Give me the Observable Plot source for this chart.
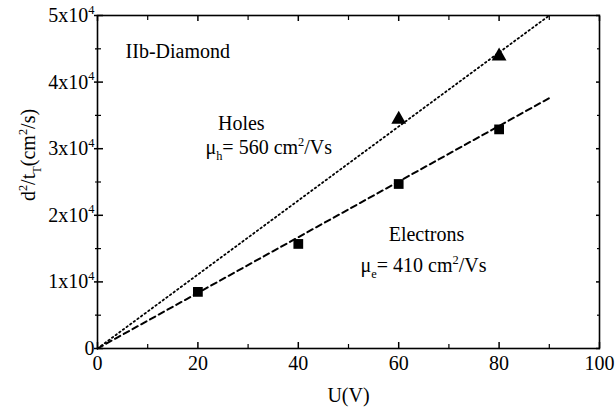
<!DOCTYPE html>
<html><head><meta charset="utf-8">
<script src="https://cdn.jsdelivr.net/npm/d3@7"></script>
<script src="https://cdn.jsdelivr.net/npm/@observablehq/plot@0.6"></script>
<style>
body{margin:0;background:#fff}
#chart svg, #chart svg text, #chart svg tspan { font-family: "Liberation Serif", "Times New Roman", serif !important; font-variant: normal !important; }
</style>
</head><body><div id="chart"></div>
<script>
// measured data (U in V, d^2/t_T in cm^2/s)
const electronU = [20, 40, 60, 80];
const electronV = [8500, 15700, 24700, 32900];
const holeU = [60, 80];
const holeV = [34400, 43900];
// fitted lines
const electronFitU = [0, 90];
const electronFitV = [0, 37600];
const holeFitU = [0, 90];
const holeFitV = [0, 50000];
// ticks
const xMajorTicks = [0, 20, 40, 60, 80, 100];
const xMinorTicks = [10, 30, 50, 70, 90];
const yMajorTicks = [0, 10000, 20000, 30000, 40000, 50000];
const yMinorTicks = [5000, 15000, 25000, 35000, 45000];
// annotations
const annotationText = ["IIb-Diamond", "Holes", "μ_h= 560 cm^2/Vs", "Electrons", "μ_e= 410 cm^2/Vs"];
const annotationU = [5.6, 24, 21.5, 58, 52.4];
const annotationV = [44600, 33800, 30100, 17100, 12400];
const xLabel = "U(V)";
const yLabel = "d^2/t_T(cm^2/s)";

const fontFamily = '"Liberation Serif","Times New Roman",serif';
const yTickFormat = d => d === 0 ? "0" : `${d / 1e4}x10^4`;

const plot = Plot.plot({
  width: 616, height: 416,
  marginLeft: 97, marginRight: 17, marginTop: 15, marginBottom: 68,
  style: {fontFamily, fontSize: "20px", color: "#000", background: "#fff", overflow: "visible"},
  x: {domain: [0, 100]},
  y: {domain: [0, 50000]},
  marks: [
    Plot.frame({stroke: "#000", strokeWidth: 1.6}),
    // inward tick marks on all four sides
    Plot.axisX({anchor: "bottom", ticks: xMajorTicks, tickSize: -6, fill: "none", label: null, strokeWidth: 1.5}),
    Plot.axisX({anchor: "bottom", ticks: xMinorTicks, tickSize: -4, fill: "none", label: null, strokeWidth: 1.2}),
    Plot.axisX({anchor: "top", ticks: xMajorTicks, tickSize: -5, fill: "none", label: null, strokeWidth: 1.5}),
    Plot.axisX({anchor: "top", ticks: xMinorTicks, tickSize: -4, fill: "none", label: null, strokeWidth: 1.2}),
    Plot.axisY({anchor: "left", ticks: yMajorTicks, tickSize: -6, fill: "none", label: null, strokeWidth: 1.5}),
    Plot.axisY({anchor: "left", ticks: yMajorTicks, tickSize: 3, fill: "none", label: null, strokeWidth: 1.5}),
    Plot.axisY({anchor: "left", ticks: yMinorTicks, tickSize: -4, fill: "none", label: null, strokeWidth: 1.2}),
    Plot.axisY({anchor: "left", ticks: yMinorTicks, tickSize: 2, fill: "none", label: null, strokeWidth: 1.2}),
    Plot.axisY({anchor: "right", ticks: yMajorTicks, tickSize: -4, fill: "none", label: null, strokeWidth: 1.5}),
    Plot.axisY({anchor: "right", ticks: yMinorTicks, tickSize: -3, fill: "none", label: null, strokeWidth: 1.2}),
    // tick labels
    Plot.axisX({anchor: "bottom", ticks: xMajorTicks, tickSize: 0, tickPadding: 7, label: null, fill: "#000", fontFamily, fontVariant: "normal"}),
    Plot.axisY({anchor: "left", ticks: yMajorTicks, tickSize: 0, tickPadding: 3, tickFormat: yTickFormat, label: null, fill: "#000", fontFamily, fontVariant: "normal"}),
    // fitted lines
    Plot.line(electronFitU, {x: electronFitU, y: electronFitV, stroke: "#000", strokeWidth: 2, strokeDasharray: "6,4"}),
    Plot.line(holeFitU, {x: holeFitU, y: holeFitV, stroke: "#000", strokeWidth: 1.8, strokeDasharray: "1.5,3"}),
    // data points
    Plot.dot(electronU, {x: electronU, y: electronV, symbol: "square", r: 5.5, fill: "#000", stroke: null}),
    Plot.dot(holeU, {x: holeU, y: holeV, symbol: "triangle", r: 5.5, fill: "#000", stroke: null}),
    // annotations
    Plot.text(annotationText, {x: annotationU, y: annotationV, textAnchor: "start", lineAnchor: "middle", fill: "#000", fontFamily}),
    Plot.text([xLabel], {frameAnchor: "bottom", textAnchor: "middle", lineAnchor: "middle", dy: 47, fill: "#000", fontFamily}),
    Plot.text([yLabel], {frameAnchor: "left", textAnchor: "middle", lineAnchor: "middle", rotate: -90, dx: -69, dy: -27, fill: "#000", fontFamily})
  ]
});

// turn ^x / _x markup into real superscript / subscript tspans
const svgns = "http://www.w3.org/2000/svg";
function richify(el) {
  const s = el.textContent;
  if (!/[\^_]/.test(s)) return;
  const fs = parseFloat(getComputedStyle(el).fontSize) || 20;
  const parts = [];
  let i = 0, buf = "";
  while (i < s.length) {
    const c = s[i];
    if ((c === "^" || c === "_") && i + 1 < s.length) {
      if (buf) parts.push({t: buf, k: 0});
      buf = "";
      let content;
      if (s[i + 1] === "{") { const j = s.indexOf("}", i + 2); content = s.slice(i + 2, j); i = j + 1; }
      else { content = s[i + 1]; i += 2; }
      parts.push({t: content, k: c === "^" ? 1 : -1});
    } else { buf += c; i++; }
  }
  if (buf) parts.push({t: buf, k: 0});
  el.textContent = "";
  let cur = 0;
  for (const p of parts) {
    const target = p.k === 1 ? -0.42 * fs : p.k === -1 ? 0.28 * fs : 0;
    const ts = document.createElementNS(svgns, "tspan");
    if (target - cur !== 0) ts.setAttribute("dy", (target - cur).toFixed(2));
    if (p.k) ts.setAttribute("font-size", (0.62 * fs).toFixed(1));
    ts.textContent = p.t;
    el.appendChild(ts);
    cur = target;
  }
}
document.getElementById("chart").appendChild(plot);
plot.querySelectorAll("text").forEach(richify);
</script>
</body></html>
